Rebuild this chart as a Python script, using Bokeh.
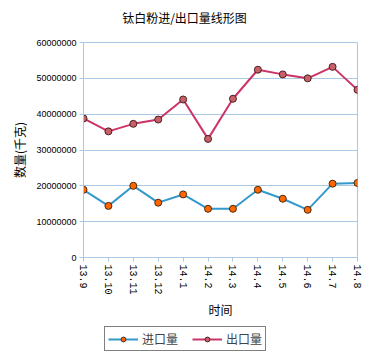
from bokeh.plotting import figure
from bokeh.layouts import column
from bokeh.models import Range1d, FixedTicker, NumeralTickFormatter, Legend, LegendItem, ColumnDataSource, Label
from bokeh.embed import file_html
from bokeh.resources import INLINE

title_text = "钛白粉进/出口量线形图"
months = ["13.9", "13.10", "13.11", "13.12", "14.1", "14.2", "14.3", "14.4", "14.5", "14.6", "14.7", "14.8"]
imports = [18.9e6, 14.4e6, 20.0e6, 15.3e6, 17.6e6, 13.6e6, 13.6e6, 18.9e6, 16.4e6, 13.3e6, 20.6e6, 20.8e6]
exports = [38.8e6, 35.2e6, 37.3e6, 38.5e6, 44.1e6, 33.1e6, 44.3e6, 52.4e6, 51.1e6, 50.0e6, 53.2e6, 46.8e6]
y_ticks = [0, 10000000, 20000000, 30000000, 40000000, 50000000, 60000000]
series_names = ["进口量", "出口量"]

xs = list(range(len(months)))
src = ColumnDataSource(dict(x=xs, imp=imports, exp=exports))

GRID = "#A8C8E4"
CJK = "Noto Sans CJK SC"
IMP_LINE, IMP_FILL = "#3399CC", "#FF6600"
EXP_LINE, EXP_FILL = "#CC3366", "#C8606A"

# title strip (its frame is aligned with the chart frame: x 83..357)
tf = figure(width=370, height=30, output_backend="svg", toolbar_location=None,
            x_range=Range1d(83, 357), y_range=Range1d(30, 0),
            x_axis_location=None, y_axis_location=None,
            min_border=0, outline_line_color=None,
            background_fill_color="white", border_fill_color="white")
tf.xgrid.visible = False
tf.ygrid.visible = False
tf.add_layout(Label(x=184, y=17, text=title_text, text_font=CJK, text_font_size="12px",
                    text_align="center", text_baseline="middle", text_color="black"))

p = figure(width=370, height=292, output_backend="svg", toolbar_location=None,
           x_range=Range1d(0, len(months) - 1), y_range=Range1d(y_ticks[0], y_ticks[-1]),
           min_border_left=83, min_border_right=13, min_border_top=12, min_border_bottom=65,
           background_fill_color="white", border_fill_color="white")

p.outline_line_color = GRID
p.xgrid.visible = False
p.ygrid.grid_line_color = GRID
p.ygrid.ticker = FixedTicker(ticks=y_ticks)

p.yaxis.ticker = FixedTicker(ticks=y_ticks)
p.yaxis.formatter = NumeralTickFormatter(format="0")
p.yaxis.major_label_text_font = "Liberation Sans"
p.yaxis.major_label_text_font_size = "9px"
p.yaxis.major_label_standoff = 3
p.yaxis.axis_label = "数量(千克)"
p.yaxis.axis_label_text_font = CJK
p.yaxis.axis_label_text_font_size = "12px"
p.yaxis.axis_label_text_font_style = "normal"
p.yaxis.axis_label_standoff = 5

p.xaxis.ticker = FixedTicker(ticks=xs)
p.xaxis.major_label_overrides = {i: m for i, m in enumerate(months)}
p.xaxis.major_label_orientation = "vertical"
p.xaxis.major_label_text_font = "Liberation Mono"
p.xaxis.major_label_text_font_size = "10px"
p.xaxis.major_label_standoff = 3
p.xaxis.axis_label = "时间"
p.xaxis.axis_label_text_font = CJK
p.xaxis.axis_label_text_font_size = "12px"
p.xaxis.axis_label_text_font_style = "normal"
p.xaxis.axis_label_standoff = 3

for ax in (p.xaxis, p.yaxis):
    ax.axis_line_color = GRID
    ax.major_tick_line_color = GRID
    ax.major_tick_in = 0
    ax.major_tick_out = 4
    ax.minor_tick_line_color = None
    ax.major_label_text_color = "black"
    ax.axis_label_text_color = "black"

p.line("x", "imp", source=src, line_color=IMP_LINE, line_width=2)
p.scatter("x", "imp", source=src, size=7, fill_color=IMP_FILL, line_color="#4A2A10", line_width=1)
p.line("x", "exp", source=src, line_color=EXP_LINE, line_width=2)
p.scatter("x", "exp", source=src, size=7, fill_color=EXP_FILL, line_color="#4A2020", line_width=1)

# legend strip below the chart (its frame aligns with the chart frame)
lf = figure(width=370, height=38, output_backend="svg", toolbar_location=None,
            x_range=Range1d(0, 1), y_range=Range1d(0, 1),
            x_axis_location=None, y_axis_location=None,
            min_border=0, outline_line_color=None,
            background_fill_color="white", border_fill_color="white")
lf.xgrid.visible = False
lf.ygrid.visible = False
dummy = ColumnDataSource(dict(x=[-10, -9], y=[-10, -9]))
a1 = lf.line("x", "y", source=dummy, line_color=IMP_LINE, line_width=2)
b1 = lf.scatter("x", "y", source=dummy, size=7, fill_color=IMP_FILL, line_color="#4A2A10", line_width=1)
a2 = lf.line("x", "y", source=dummy, line_color=EXP_LINE, line_width=2)
b2 = lf.scatter("x", "y", source=dummy, size=7, fill_color=EXP_FILL, line_color="#4A2020", line_width=1)

legend = Legend(items=[LegendItem(label=series_names[0], renderers=[a1, b1]),
                       LegendItem(label=series_names[1], renderers=[a2, b2])],
                orientation="horizontal", location=(21, 9),
                label_text_font=CJK, label_text_font_size="12px",
                glyph_width=30, glyph_height=12, label_height=12,
                padding=3, spacing=14, label_standoff=4, margin=0,
                border_line_color="black", border_line_width=1,
                background_fill_color="white", background_fill_alpha=1.0)
lf.add_layout(legend, "center")

layout = column(tf, p, lf, spacing=0)
open("out.html", "w").write(file_html(layout, INLINE))
